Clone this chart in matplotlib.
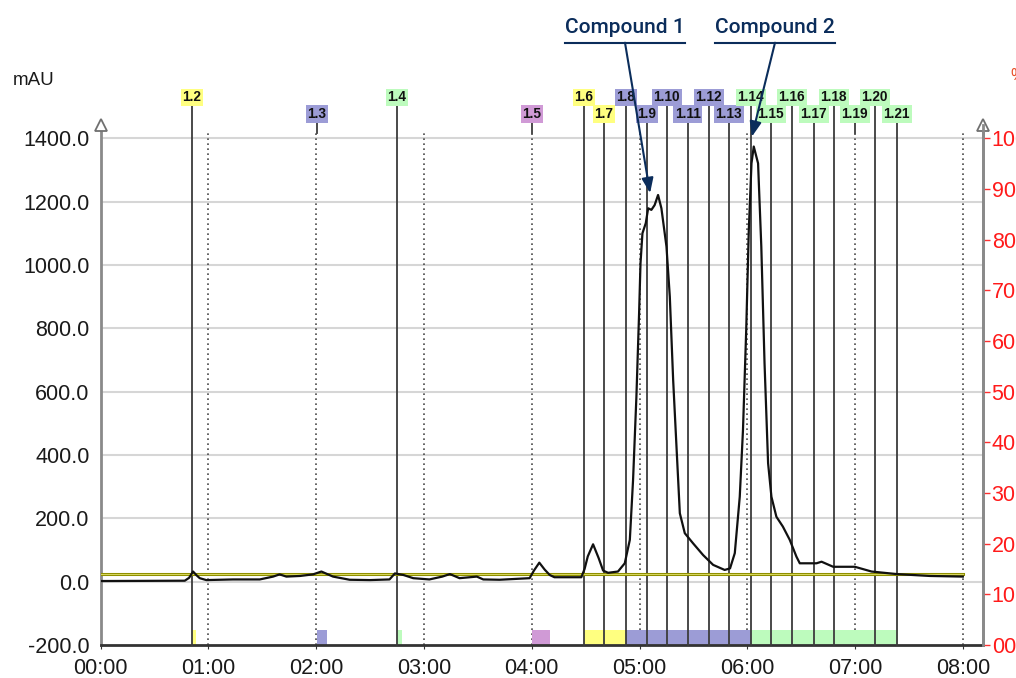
import matplotlib
matplotlib.use("Agg")
import matplotlib.pyplot as plt
from matplotlib.ticker import FixedLocator, FuncFormatter

# ---------------- data ----------------
time_min = [0, 0.78, 0.82, 0.857, 0.89, 0.919, 0.98, 1.228, 1.476, 1.6, 1.66, 1.723, 1.85, 1.97,
            2.048, 2.156, 2.31, 2.5, 2.68, 2.73, 2.81, 2.9, 3.05, 3.17, 3.24, 3.33, 3.49, 3.55,
            3.70, 3.98, 4.02, 4.07, 4.12, 4.167, 4.21, 4.46, 4.49, 4.52, 4.569, 4.62, 4.662,
            4.708, 4.80, 4.863, 4.91, 4.94, 4.971, 4.996, 5.009, 5.027, 5.058, 5.08, 5.11,
            5.14, 5.172, 5.203, 5.25, 5.281, 5.312, 5.343, 5.374, 5.42, 5.497, 5.59, 5.683,
            5.79, 5.84, 5.884, 5.93, 5.96, 5.99, 6.014, 6.039, 6.06, 6.1, 6.13, 6.16, 6.193,
            6.224, 6.27, 6.33, 6.394, 6.456, 6.487, 6.642, 6.689, 6.797, 6.998, 7.153, 7.385,
            7.694, 8.0]
absorbance = [2, 3, 12, 32, 20, 11, 5, 7, 7, 16, 23, 16, 18, 23,
              32, 16, 6, 5, 7, 26, 21, 11, 7, 16, 24, 11, 16, 7,
              6, 11, 35, 60, 38, 21, 14, 14, 40, 80, 118, 75, 35,
              28, 32, 58, 132, 321, 584, 848, 1005, 1100, 1132, 1179, 1174,
              1189, 1221, 1179, 1058, 900, 637, 426, 216, 153, 121, 84, 53,
              37, 42, 90, 268, 479, 795, 1111, 1321, 1374, 1321, 1058, 690, 374,
              268, 205, 174, 132, 79, 58, 58, 63, 47, 47, 32, 24,
              18, 16]

threshold_level = 24          # mAU, collection threshold line
run_end = 8.0                 # min

fraction_labels = ["1.2", "1.3", "1.4", "1.5", "1.6", "1.7", "1.8", "1.9", "1.10", "1.11",
                   "1.12", "1.13", "1.14", "1.15", "1.16", "1.17", "1.18", "1.19", "1.20", "1.21"]
fraction_start = [0.845, 2.005, 2.747, 4.0, 4.483, 4.668, 4.872, 5.067, 5.253, 5.448,
                  5.643, 5.828, 6.032, 6.218, 6.413, 6.617, 6.803, 6.998, 7.183, 7.387]
fraction_end = [0.882, 2.104, 2.80, 4.167, 4.668, 4.872, 5.067, 5.253, 5.448, 5.643,
                5.828, 6.032, 6.218, 6.413, 6.617, 6.803, 6.998, 7.183, 7.387, 7.40]
fraction_color = ["#ffff80", "#9c9cd6", "#bdfbbd", "#d09ad6", "#ffff80", "#ffff80",
                  "#9c9cd6", "#9c9cd6", "#9c9cd6", "#9c9cd6", "#9c9cd6", "#9c9cd6",
                  "#bdfbbd", "#bdfbbd", "#bdfbbd", "#bdfbbd", "#bdfbbd", "#bdfbbd",
                  "#bdfbbd", "#bdfbbd"]

left_ticks = [-200, 0, 200, 400, 600, 800, 1000, 1200, 1400]
right_ticks = [0, 10, 20, 30, 40, 50, 60, 70, 80, 90, 100]
right_tick_labels = ["00", "10", "20", "30", "40", "50", "60", "70", "80", "90", "100"]
x_ticks = [0, 1, 2, 3, 4, 5, 6, 7, 8]
x_tick_labels = ["00:00", "01:00", "02:00", "03:00", "04:00", "05:00", "06:00", "07:00", "08:00"]

compounds = ["Compound 1", "Compound 2"]
compound_peak_time = [5.098, 6.042]
compound_peak_value = [1227, 1405]

# ---------------- figure ----------------
W, H = 1016, 678
fig = plt.figure(figsize=(W / 100, H / 100), dpi=100)
ax_left, ax_bottom, ax_right_px, ax_top_px = 100.7, 645, 983.3, 125
ax = fig.add_axes([ax_left / W, 1 - ax_bottom / H, (ax_right_px - ax_left) / W,
                   (ax_bottom - ax_top_px) / H])

YMIN, YMAX = -200, 1442
XMAX = 8.19
ax.set_xlim(0, XMAX)
ax.set_ylim(YMIN, YMAX)

LBL = 15.5

# horizontal gridlines
for v in left_ticks[1:]:
    ax.axhline(v, color="#d6d6d6", lw=1.5, zorder=1)

# vertical dotted gridlines
for t in x_ticks[1:]:
    ax.plot([t, t], [YMIN, 1418], color="#4a4a4a", lw=1.2, ls=(0, (1, 2)), zorder=2,
            clip_on=False)

# fraction lines and labels
xtr = ax.get_xaxis_transform()
for i, (lab, ts, col) in enumerate(zip(fraction_labels, fraction_start, fraction_color)):
    row = i % 2
    label_y = 1.0529 if row == 0 else 1.0212
    line_top = 1.0385 if row == 0 else 1.0038
    on_grid = abs(ts - round(ts)) < 0.02
    y0 = 0.985 if on_grid else 0.0
    ax.plot([ts, ts], [y0, line_top], transform=xtr, color="#3c3c3c", lw=1.3,
            clip_on=False, zorder=3)
    ax.text(ts, label_y, lab, transform=xtr, ha="center", va="center",
            fontsize=9.8, fontweight="bold", family="Liberation Sans", color="#111111",
            bbox=dict(boxstyle="square,pad=0.12", fc=col, ec="none"), zorder=6,
            clip_on=False)
    # collection bar at the bottom
    ax.fill_between([ts, fraction_end[i]], YMIN, -153, color=col, lw=0, zorder=2)

# threshold line
ax.plot([0, run_end], [threshold_level, threshold_level], color="#8f8f00", lw=2.2, zorder=4)
ax.plot([0, run_end], [threshold_level, threshold_level], color="#d8d860", lw=0.7, zorder=4)

# chromatogram
ax.plot(time_min, absorbance, color="#111111", lw=1.6, zorder=5)

# spines
ax.spines["top"].set_visible(False)
ax.spines["left"].set_color("#8a8a8a")
ax.spines["left"].set_linewidth(2)
ax.spines["right"].set_color("#8a8a8a")
ax.spines["right"].set_linewidth(2)
ax.spines["bottom"].set_color("#333333")
ax.spines["bottom"].set_linewidth(2)

# arrows on spine tops
for xa in [0, XMAX]:
    ax.plot([xa], [1.0], transform=xtr, marker="^", ms=9, mfc="white", mec="#707070",
            mew=1.3, clip_on=False, zorder=7)

ax.yaxis.set_major_locator(FixedLocator(left_ticks))
ax.yaxis.set_major_formatter(FuncFormatter(lambda v, p: f"{v:.1f}"))
ax.set_xticks(x_ticks)
ax.set_xticklabels(x_tick_labels)
ax.tick_params(axis="y", length=0, pad=8, labelcolor="#1a1a1a", labelsize=LBL)
ax.tick_params(axis="x", length=3, pad=6, color="#333333", labelcolor="#1a1a1a", labelsize=LBL)
for lbl in ax.get_xticklabels() + ax.get_yticklabels():
    lbl.set_family("Liberation Sans")

# right axis
ax2 = ax.twinx()
ax2.set_ylim((YMIN + 200) / 16, (YMAX + 200) / 16)
ax2.set_yticks(right_ticks)
ax2.set_yticklabels(right_tick_labels)
ax2.tick_params(axis="y", length=5, width=1, color="#ff3030", pad=1, labelcolor="#ff1a1a",
                labelsize=LBL)
for lbl in ax2.get_yticklabels():
    lbl.set_family("Liberation Sans")
for s in ["top", "left", "bottom"]:
    ax2.spines[s].set_visible(False)
ax2.spines["right"].set_color("#8a8a8a")
ax2.spines["right"].set_linewidth(2)

# unit label
fig.text(12.7 / W, 1 - 85 / H, "mAU", family="Liberation Sans", fontsize=13.5,
         color="#1a1a1a", va="baseline", ha="left")
# partially visible mark at the top right edge
fig.text(1010 / W, 1 - 76 / H, "%", family="Liberation Sans", fontsize=12,
         color="#e8502a", va="center", ha="left")

# compound annotations
navy = "#0b2d5b"
text_cx = [625, 775]
for name, tx, pt, pv in zip(compounds, text_cx, compound_peak_time, compound_peak_value):
    fig.text(tx / W, 1 - 33 / H, name, family="Roboto", fontweight="medium", fontsize=15,
             color=navy, ha="center", va="baseline")
    fig.add_artist(plt.Line2D([(tx - 60) / W, (tx + 60) / W], [1 - 42.7 / H, 1 - 42.7 / H],
                              color=navy, lw=1.5))
    ax.annotate("", xy=(pt, pv), xycoords="data",
                xytext=(tx / W, 1 - 42.7 / H), textcoords="figure fraction",
                arrowprops=dict(arrowstyle="-|>,head_length=0.9,head_width=0.35",
                                color=navy, lw=1.5, shrinkA=0, shrinkB=0),
                annotation_clip=False, zorder=8)

fig.savefig("out.png", dpi=100)
